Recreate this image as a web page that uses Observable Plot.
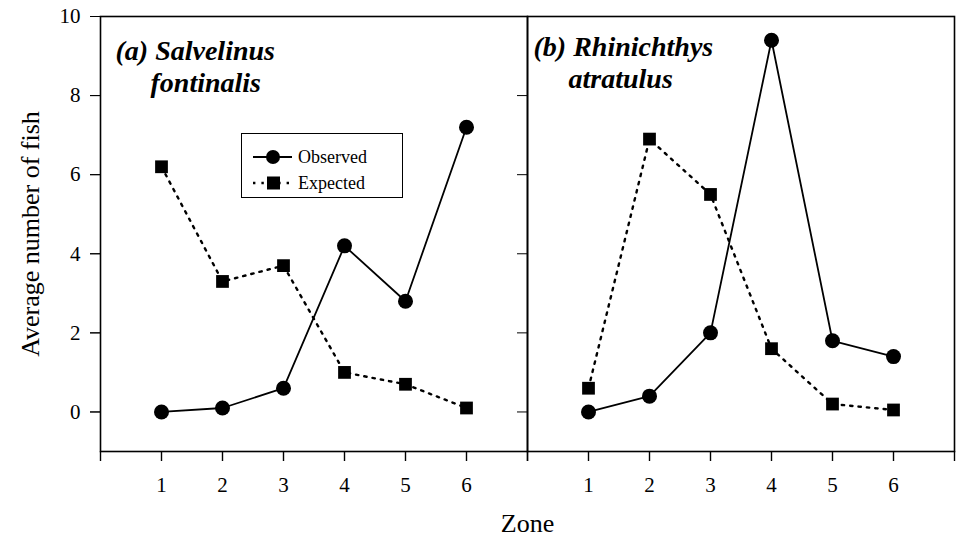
<!DOCTYPE html>
<html><head><meta charset="utf-8">
<script src="https://cdn.jsdelivr.net/npm/d3@7"></script>
<script src="https://cdn.jsdelivr.net/npm/@observablehq/plot@0.6"></script>
<style>
body{margin:0;background:#fff}
#wrap{position:relative;width:956px;height:537px;font-family:"Liberation Serif",serif}
#legend{position:absolute;left:241px;top:133px;width:160px;height:63px;border:1.5px solid #000;background:#fff;box-sizing:content-box}
</style>
</head><body><div id="wrap"></div>
<script>
const zones = [1, 2, 3, 4, 5, 6];
const panels = ["a", "b"];
const observedA = [0, 0.1, 0.6, 4.2, 2.8, 7.2];
const expectedA = [6.2, 3.3, 3.7, 1.0, 0.7, 0.1];
const observedB = [0, 0.4, 2.0, 9.4, 1.8, 1.4];
const expectedB = [0.6, 6.9, 5.5, 1.6, 0.2, 0.05];
const titleLine1 = ["(a) Salvelinus", "(b) Rhinichthys"];
const titleLine2 = ["fontinalis", "atratulus"];
const seriesNames = ["Observed", "Expected"];
const yTicks = [0, 2, 4, 6, 8, 10];
const xTicks = [0, 1, 2, 3, 4, 5, 6, 7];

const rows = [];
[[observedA, expectedA], [observedB, expectedB]].forEach(([o, e], pi) => {
  zones.forEach((z, i) => {
    rows.push({panel: panels[pi], zone: z, value: o[i], series: seriesNames[0]});
    rows.push({panel: panels[pi], zone: z, value: e[i], series: seriesNames[1]});
  });
});
const obs = rows.filter(d => d.series === "Observed");
const exp = rows.filter(d => d.series === "Expected");

const titleFont = {fontFamily: "Liberation Serif", fontSize: 28, fontWeight: "bold", fontStyle: "italic", textAnchor: "start", lineAnchor: "middle", frameAnchor: "top-left"};

const chart = Plot.plot({
  width: 956, height: 537,
  marginLeft: 99, marginRight: 2, marginTop: 16, marginBottom: 86,
  style: {fontFamily: "Liberation Serif", fontSize: "20px", color: "black", background: "white"},
  fx: {domain: panels, padding: 0},
  x: {domain: [0, 7]},
  y: {domain: [-1, 10]},
  marks: [
    Plot.frame({stroke: "black", strokeWidth: 1.6}),
    Plot.axisY({ticks: yTicks, tickSize: 10, tickPadding: 10, fontSize: 21, label: null}),
    Plot.axisY({ticks: yTicks, tickSize: 10, tickFormat: () => "", facetAnchor: null, label: null}),
    Plot.axisY({ticks: [], label: "Average number of fish", labelAnchor: "center", labelOffset: 80, labelArrow: "none", fontSize: 26}),
    Plot.axisX({ticks: xTicks, tickSize: 10, tickPadding: 16, strokeWidth: 1.4, tickFormat: d => (d >= 1 && d <= 6 ? d : ""), label: null, fontSize: 21}),
    Plot.axisFx({anchor: "bottom", tickSize: 0, tickFormat: () => "", label: "Zone", labelAnchor: "center", labelOffset: 80, labelArrow: "none", fontSize: 26, dx: 4}),
    Plot.line(exp, {fx: "panel", x: "zone", y: "value", stroke: "black", strokeWidth: 2.4, strokeDasharray: "2.4,6"}),
    Plot.line(obs, {fx: "panel", x: "zone", y: "value", stroke: "black", strokeWidth: 1.8}),
    Plot.dot(exp, {fx: "panel", x: "zone", y: "value", symbol: "square", r: 7.2, fill: "black"}),
    Plot.dot(obs, {fx: "panel", x: "zone", y: "value", r: 7.5, fill: "black"}),
    Plot.text([{panel: "a", t: titleLine1[0]}], {fx: "panel", text: "t", ...titleFont, dx: 15, dy: 35}),
    Plot.text([{panel: "a", t: titleLine2[0]}], {fx: "panel", text: "t", ...titleFont, dx: 50, dy: 67}),
    Plot.text([{panel: "b", t: titleLine1[1]}], {fx: "panel", text: "t", ...titleFont, dx: 6, dy: 31}),
    Plot.text([{panel: "b", t: titleLine2[1]}], {fx: "panel", text: "t", ...titleFont, dx: 41, dy: 63})
  ]
});
const wrap = document.getElementById("wrap");
wrap.appendChild(chart);

// Legend
const legend = document.createElement("div");
legend.id = "legend";
const lsvg = d3.create("svg").attr("width", 160).attr("height", 63);
seriesNames.forEach((name, i) => {
  const g = lsvg.append("g").attr("transform", `translate(0,${i === 0 ? 23 : 49})`);
  g.append("line").attr("x1", 11).attr("x2", 50).attr("y1", 0).attr("y2", 0)
    .attr("stroke", "black").attr("stroke-width", i === 0 ? 1.8 : 2.4)
    .attr("stroke-dasharray", i === 0 ? null : "2.4,6");
  if (i === 0) g.append("circle").attr("cx", 31).attr("cy", 0).attr("r", 7).attr("fill", "black");
  else g.append("rect").attr("x", 25).attr("y", -6.5).attr("width", 13).attr("height", 13).attr("fill", "black");
  g.append("text").attr("x", 56).attr("y", 0).attr("dy", "0.35em")
    .attr("font-family", "Liberation Serif").attr("font-size", 18).text(name);
});
legend.appendChild(lsvg.node());
wrap.appendChild(legend);
</script>
</body></html>
